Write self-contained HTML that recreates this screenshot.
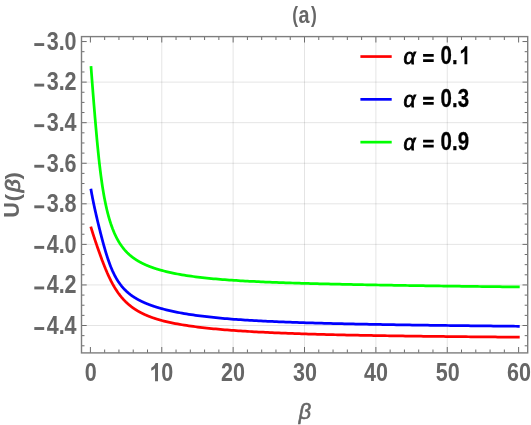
<!DOCTYPE html>
<html><head><meta charset="utf-8"><title>plot</title>
<style>html,body{margin:0;padding:0;background:#fff;}svg{display:block;will-change:transform;font-family:"Liberation Sans",sans-serif;}</style>
</head><body>
<svg width="531" height="425" viewBox="0 0 531 425">
<rect width="531" height="425" fill="#fff"/>
<path d="M161.77,36.6V352.9M233.14,36.6V352.9M304.51,36.6V352.9M375.88,36.6V352.9M447.25,36.6V352.9" stroke="#000" stroke-opacity="0.105" stroke-width="1" fill="none"/>
<path d="M81.5,82.12H527.7M81.5,122.68H527.7M81.5,163.25H527.7M81.5,203.81H527.7M81.5,244.38H527.7M81.5,284.95H527.7M81.5,325.51H527.7" stroke="#000" stroke-opacity="0.105" stroke-width="1" fill="none"/>
<path d="M90.76,226.60 L90.84,226.85 L91.02,227.45 L91.19,228.04 L91.37,228.63 L91.55,229.22 L91.73,229.80 L91.91,230.38 L92.09,230.96 L92.27,231.53 L92.45,232.10 L92.63,232.67 L92.81,233.23 L92.98,233.79 L93.16,234.35 L93.34,234.91 L93.52,235.47 L93.70,236.02 L93.88,236.57 L94.06,237.12 L94.24,237.66 L94.42,238.21 L94.60,238.75 L94.77,239.29 L94.95,239.83 L95.13,240.37 L95.31,240.91 L95.49,241.44 L95.67,241.97 L95.85,242.50 L96.03,243.03 L96.21,243.56 L96.39,244.09 L96.56,244.61 L96.74,245.14 L96.92,245.66 L97.10,246.18 L97.28,246.70 L97.46,247.22 L97.64,247.74 L97.82,248.25 L98.00,248.77 L98.18,249.28 L98.35,249.79 L98.53,250.30 L98.71,250.81 L98.89,251.32 L99.07,251.82 L99.25,252.33 L99.43,252.83 L99.61,253.33 L99.79,253.83 L99.97,254.33 L100.14,254.82 L100.32,255.32 L100.50,255.81 L100.68,256.30 L100.86,256.79 L101.04,257.28 L101.22,257.77 L101.40,258.25 L101.58,258.74 L101.76,259.22 L101.93,259.70 L102.11,260.17 L102.29,260.65 L102.47,261.12 L102.65,261.59 L102.83,262.06 L103.01,262.53 L103.19,263.00 L103.37,263.46 L103.55,263.92 L103.72,264.38 L103.90,264.84 L104.08,265.29 L104.26,265.74 L104.44,266.19 L104.62,266.64 L104.80,267.08 L104.98,267.53 L105.16,267.97 L105.34,268.40 L105.51,268.84 L105.69,269.27 L105.87,269.70 L106.05,270.13 L106.23,270.55 L106.41,270.98 L106.59,271.40 L106.77,271.81 L106.95,272.23 L107.13,272.64 L107.30,273.05 L107.48,273.45 L107.66,273.86 L107.84,274.26 L108.02,274.66 L108.20,275.05 L108.38,275.45 L108.56,275.84 L108.74,276.22 L108.92,276.61 L109.09,276.99 L109.27,277.37 L109.45,277.75 L109.63,278.12 L109.81,278.49 L109.99,278.86 L110.17,279.22 L110.35,279.59 L110.53,279.95 L110.71,280.30 L110.88,280.66 L111.06,281.01 L111.24,281.36 L111.42,281.70 L111.60,282.05 L111.78,282.39 L111.96,282.72 L112.14,283.06 L112.32,283.39 L112.50,283.72 L112.67,284.05 L112.85,284.37 L113.03,284.70 L113.21,285.02 L113.39,285.33 L113.57,285.65 L113.75,285.96 L113.93,286.27 L114.11,286.57 L114.29,286.88 L114.46,287.18 L114.64,287.48 L114.82,287.77 L115.00,288.07 L115.18,288.36 L115.36,288.65 L115.54,288.93 L115.72,289.22 L115.90,289.50 L116.08,289.78 L116.25,290.05 L116.43,290.33 L116.61,290.60 L116.79,290.87 L116.97,291.14 L117.15,291.40 L117.33,291.66 L117.51,291.92 L117.69,292.18 L117.87,292.44 L118.04,292.69 L118.22,292.94 L118.40,293.19 L118.58,293.44 L118.76,293.69 L118.94,293.93 L119.12,294.17 L119.30,294.41 L119.48,294.65 L119.66,294.88 L119.83,295.12 L120.01,295.35 L120.19,295.58 L120.37,295.80 L120.55,296.03 L120.73,296.25 L120.91,296.47 L121.09,296.69 L121.27,296.91 L121.45,297.12 L121.62,297.34 L121.80,297.55 L121.98,297.76 L122.16,297.97 L122.34,298.18 L122.52,298.38 L122.70,298.58 L122.88,298.79 L123.06,298.99 L123.24,299.18 L123.41,299.38 L123.59,299.58 L123.77,299.77 L123.95,299.96 L124.13,300.15 L124.31,300.34 L124.49,300.53 L124.67,300.71 L124.85,300.89 L125.03,301.08 L125.20,301.26 L125.38,301.44 L125.56,301.61 L125.74,301.79 L125.92,301.97 L126.10,302.14 L126.28,302.31 L126.46,302.48 L126.64,302.65 L126.82,302.82 L126.99,302.99 L127.17,303.15 L127.35,303.32 L127.53,303.48 L127.71,303.64 L127.89,303.80 L128.07,303.96 L128.25,304.11 L128.43,304.27 L128.61,304.43 L128.78,304.58 L128.96,304.73 L129.14,304.88 L129.32,305.03 L129.50,305.18 L129.68,305.33 L129.86,305.48 L130.04,305.62 L130.22,305.77 L130.40,305.91 L130.57,306.05 L130.75,306.19 L130.93,306.33 L131.11,306.47 L131.29,306.61 L131.47,306.74 L131.65,306.88 L131.83,307.02 L132.01,307.15 L132.19,307.28 L132.36,307.41 L132.54,307.54 L132.72,307.67 L132.90,307.80 L133.08,307.93 L133.26,308.06 L133.44,308.18 L133.62,308.31 L133.80,308.43 L133.98,308.55 L134.15,308.67 L134.33,308.80 L134.51,308.92 L134.69,309.04 L134.87,309.15 L135.05,309.27 L135.23,309.39 L135.41,309.50 L135.59,309.62 L135.77,309.73 L135.94,309.85 L136.12,309.96 L136.30,310.07 L136.48,310.18 L136.66,310.29 L136.84,310.40 L137.02,310.51 L137.20,310.62 L137.38,310.73 L137.56,310.83 L137.73,310.94 L137.91,311.04 L138.09,311.15 L138.27,311.25 L138.45,311.35 L138.63,311.46 L138.81,311.56 L138.99,311.66 L139.17,311.76 L139.35,311.86 L139.52,311.95 L139.70,312.05 L139.88,312.15 L140.06,312.25 L140.24,312.34 L140.42,312.44 L140.60,312.53 L140.78,312.63 L140.96,312.72 L141.14,312.81 L141.31,312.90 L141.49,313.00 L141.67,313.09 L141.85,313.18 L142.03,313.27 L142.21,313.36 L142.39,313.44 L142.57,313.53 L142.75,313.62 L142.93,313.71 L143.10,313.79 L143.28,313.88 L143.46,313.96 L143.64,314.05 L143.82,314.13 L144.00,314.22 L144.18,314.30 L144.36,314.38 L144.54,314.46 L144.72,314.55 L144.89,314.63 L145.07,314.71 L145.25,314.79 L145.43,314.87 L145.61,314.95 L145.79,315.02 L145.97,315.10 L146.15,315.18 L146.33,315.26 L146.51,315.33 L146.68,315.41 L146.86,315.48 L147.04,315.56 L147.22,315.63 L147.40,315.71 L147.58,315.78 L147.76,315.86 L147.94,315.93 L148.12,316.00 L148.30,316.07 L148.47,316.14 L148.65,316.22 L148.83,316.29 L149.01,316.36 L149.19,316.43 L149.37,316.50 L149.55,316.57 L149.73,316.63 L149.91,316.70 L150.09,316.77 L150.26,316.84 L150.44,316.91 L150.62,316.97 L150.80,317.04 L150.98,317.10 L151.16,317.17 L151.34,317.24 L151.52,317.30 L151.70,317.37 L151.88,317.43 L152.05,317.49 L152.23,317.56 L152.41,317.62 L152.59,317.68 L152.77,317.74 L152.95,317.81 L153.13,317.87 L153.31,317.93 L153.49,317.99 L153.67,318.05 L153.84,318.11 L154.02,318.17 L154.20,318.23 L154.38,318.29 L154.56,318.35 L154.74,318.41 L154.92,318.47 L155.10,318.53 L155.28,318.58 L155.46,318.64 L155.63,318.70 L155.81,318.75 L155.99,318.81 L156.17,318.87 L156.35,318.92 L156.53,318.98 L156.71,319.03 L156.89,319.09 L157.07,319.14 L157.25,319.20 L157.42,319.25 L157.60,319.31 L157.78,319.36 L157.96,319.41 L158.14,319.47 L158.32,319.52 L158.50,319.57 L158.68,319.63 L158.86,319.68 L159.04,319.73 L159.21,319.78 L159.39,319.83 L159.57,319.88 L159.75,319.93 L159.93,319.99 L160.11,320.04 L160.29,320.09 L160.47,320.14 L160.65,320.18 L160.83,320.23 L161.00,320.28 L161.18,320.33 L161.36,320.38 L161.54,320.43 L161.72,320.48 L163.97,321.06 L166.23,321.62 L168.48,322.14 L170.74,322.64 L172.99,323.10 L175.25,323.55 L177.50,323.97 L179.76,324.38 L182.01,324.76 L184.27,325.13 L186.52,325.48 L188.78,325.82 L191.03,326.14 L193.29,326.45 L195.54,326.75 L197.80,327.03 L200.05,327.31 L202.31,327.57 L204.56,327.83 L206.82,328.08 L209.07,328.31 L211.33,328.54 L213.58,328.76 L215.84,328.98 L218.09,329.19 L220.35,329.39 L222.60,329.58 L224.86,329.77 L227.11,329.95 L229.37,330.13 L231.62,330.30 L233.88,330.47 L236.13,330.63 L238.39,330.78 L240.64,330.93 L242.90,331.08 L245.15,331.23 L247.41,331.36 L249.66,331.50 L251.92,331.63 L254.17,331.76 L256.43,331.88 L258.68,332.01 L260.94,332.12 L263.19,332.24 L265.45,332.35 L267.70,332.46 L269.95,332.57 L272.21,332.67 L274.46,332.77 L276.72,332.87 L278.97,332.96 L281.23,333.06 L283.48,333.15 L285.74,333.24 L287.99,333.32 L290.25,333.41 L292.50,333.49 L294.76,333.57 L297.01,333.65 L299.27,333.73 L301.52,333.80 L303.78,333.88 L306.03,333.95 L308.29,334.02 L310.54,334.09 L312.80,334.15 L315.05,334.22 L317.31,334.28 L319.56,334.35 L321.82,334.41 L324.07,334.47 L326.33,334.53 L328.58,334.59 L330.84,334.64 L333.09,334.70 L335.35,334.75 L337.60,334.81 L339.86,334.86 L342.11,334.91 L344.37,334.96 L346.62,335.01 L348.88,335.06 L351.13,335.10 L353.39,335.15 L355.64,335.19 L357.90,335.24 L360.15,335.28 L362.41,335.33 L364.66,335.37 L366.92,335.41 L369.17,335.45 L371.43,335.49 L373.68,335.53 L375.94,335.57 L378.19,335.61 L380.44,335.65 L382.70,335.68 L384.95,335.72 L387.21,335.75 L389.46,335.79 L391.72,335.82 L393.97,335.86 L396.23,335.89 L398.48,335.92 L400.74,335.96 L402.99,335.99 L405.25,336.02 L407.50,336.05 L409.76,336.08 L412.01,336.11 L414.27,336.14 L416.52,336.17 L418.78,336.20 L421.03,336.23 L423.29,336.26 L425.54,336.28 L427.80,336.31 L430.05,336.34 L432.31,336.36 L434.56,336.39 L436.82,336.42 L439.07,336.44 L441.33,336.47 L443.58,336.49 L445.84,336.52 L448.09,336.54 L450.35,336.57 L452.60,336.59 L454.86,336.61 L457.11,336.64 L459.37,336.66 L461.62,336.68 L463.88,336.70 L466.13,336.73 L468.39,336.75 L470.64,336.77 L472.90,336.79 L475.15,336.81 L477.41,336.83 L479.66,336.85 L481.92,336.88 L484.17,336.90 L486.42,336.92 L488.68,336.94 L490.93,336.96 L493.19,336.97 L495.44,336.99 L497.70,337.01 L499.95,337.03 L502.21,337.05 L504.46,337.07 L506.72,337.09 L508.97,337.11 L511.23,337.12 L513.48,337.14 L515.74,337.16 L517.99,337.18 L519.70,337.19" fill="none" stroke="#ff0000" stroke-width="2.75" stroke-linejoin="round"/>
<path d="M90.84,188.70 L91.02,189.72 L91.19,190.73 L91.37,191.73 L91.55,192.72 L91.73,193.69 L91.91,194.65 L92.09,195.61 L92.27,196.55 L92.45,197.48 L92.63,198.40 L92.81,199.30 L92.98,200.20 L93.16,201.09 L93.34,201.98 L93.52,202.85 L93.70,203.71 L93.88,204.57 L94.06,205.42 L94.24,206.26 L94.42,207.09 L94.60,207.92 L94.77,208.74 L94.95,209.56 L95.13,210.37 L95.31,211.17 L95.49,211.97 L95.67,212.77 L95.85,213.55 L96.03,214.34 L96.21,215.12 L96.39,215.89 L96.56,216.66 L96.74,217.43 L96.92,218.19 L97.10,218.95 L97.28,219.71 L97.46,220.46 L97.64,221.21 L97.82,221.96 L98.00,222.71 L98.18,223.45 L98.35,224.19 L98.53,224.92 L98.71,225.65 L98.89,226.38 L99.07,227.11 L99.25,227.84 L99.43,228.56 L99.61,229.28 L99.79,230.00 L99.97,230.71 L100.14,231.42 L100.32,232.13 L100.50,232.84 L100.68,233.55 L100.86,234.25 L101.04,234.95 L101.22,235.64 L101.40,236.34 L101.58,237.03 L101.76,237.71 L101.93,238.40 L102.11,239.08 L102.29,239.76 L102.47,240.43 L102.65,241.10 L102.83,241.77 L103.01,242.43 L103.19,243.09 L103.37,243.75 L103.55,244.40 L103.72,245.05 L103.90,245.69 L104.08,246.33 L104.26,246.97 L104.44,247.60 L104.62,248.23 L104.80,248.85 L104.98,249.47 L105.16,250.08 L105.34,250.69 L105.51,251.30 L105.69,251.90 L105.87,252.49 L106.05,253.08 L106.23,253.67 L106.41,254.25 L106.59,254.82 L106.77,255.39 L106.95,255.95 L107.13,256.51 L107.30,257.07 L107.48,257.62 L107.66,258.16 L107.84,258.70 L108.02,259.23 L108.20,259.76 L108.38,260.28 L108.56,260.80 L108.74,261.31 L108.92,261.81 L109.09,262.31 L109.27,262.81 L109.45,263.30 L109.63,263.78 L109.81,264.26 L109.99,264.74 L110.17,265.20 L110.35,265.67 L110.53,266.13 L110.71,266.58 L110.88,267.03 L111.06,267.47 L111.24,267.91 L111.42,268.34 L111.60,268.77 L111.78,269.19 L111.96,269.61 L112.14,270.02 L112.32,270.43 L112.50,270.83 L112.67,271.23 L112.85,271.62 L113.03,272.01 L113.21,272.40 L113.39,272.78 L113.57,273.15 L113.75,273.52 L113.93,273.89 L114.11,274.25 L114.29,274.61 L114.46,274.96 L114.64,275.31 L114.82,275.65 L115.00,275.99 L115.18,276.33 L115.36,276.66 L115.54,276.99 L115.72,277.31 L115.90,277.63 L116.08,277.95 L116.25,278.26 L116.43,278.57 L116.61,278.88 L116.79,279.18 L116.97,279.48 L117.15,279.77 L117.33,280.07 L117.51,280.35 L117.69,280.64 L117.87,280.92 L118.04,281.20 L118.22,281.47 L118.40,281.74 L118.58,282.01 L118.76,282.28 L118.94,282.54 L119.12,282.80 L119.30,283.05 L119.48,283.31 L119.66,283.56 L119.83,283.80 L120.01,284.05 L120.19,284.29 L120.37,284.53 L120.55,284.77 L120.73,285.00 L120.91,285.23 L121.09,285.46 L121.27,285.69 L121.45,285.91 L121.62,286.13 L121.80,286.35 L121.98,286.57 L122.16,286.78 L122.34,286.99 L122.52,287.20 L122.70,287.41 L122.88,287.61 L123.06,287.82 L123.24,288.02 L123.41,288.22 L123.59,288.41 L123.77,288.61 L123.95,288.80 L124.13,288.99 L124.31,289.18 L124.49,289.37 L124.67,289.55 L124.85,289.73 L125.03,289.91 L125.20,290.09 L125.38,290.27 L125.56,290.45 L125.74,290.62 L125.92,290.79 L126.10,290.96 L126.28,291.13 L126.46,291.30 L126.64,291.47 L126.82,291.63 L126.99,291.79 L127.17,291.96 L127.35,292.11 L127.53,292.27 L127.71,292.43 L127.89,292.58 L128.07,292.74 L128.25,292.89 L128.43,293.04 L128.61,293.19 L128.78,293.34 L128.96,293.49 L129.14,293.63 L129.32,293.78 L129.50,293.92 L129.68,294.06 L129.86,294.20 L130.04,294.34 L130.22,294.48 L130.40,294.62 L130.57,294.75 L130.75,294.89 L130.93,295.02 L131.11,295.15 L131.29,295.28 L131.47,295.41 L131.65,295.54 L131.83,295.67 L132.01,295.80 L132.19,295.92 L132.36,296.05 L132.54,296.17 L132.72,296.30 L132.90,296.42 L133.08,296.54 L133.26,296.66 L133.44,296.78 L133.62,296.90 L133.80,297.01 L133.98,297.13 L134.15,297.25 L134.33,297.36 L134.51,297.47 L134.69,297.59 L134.87,297.70 L135.05,297.81 L135.23,297.92 L135.41,298.03 L135.59,298.14 L135.77,298.25 L135.94,298.35 L136.12,298.46 L136.30,298.57 L136.48,298.67 L136.66,298.77 L136.84,298.88 L137.02,298.98 L137.20,299.08 L137.38,299.18 L137.56,299.28 L137.73,299.38 L137.91,299.48 L138.09,299.58 L138.27,299.68 L138.45,299.78 L138.63,299.87 L138.81,299.97 L138.99,300.06 L139.17,300.16 L139.35,300.25 L139.52,300.35 L139.70,300.44 L139.88,300.53 L140.06,300.62 L140.24,300.71 L140.42,300.80 L140.60,300.89 L140.78,300.98 L140.96,301.07 L141.14,301.16 L141.31,301.25 L141.49,301.33 L141.67,301.42 L141.85,301.50 L142.03,301.59 L142.21,301.67 L142.39,301.76 L142.57,301.84 L142.75,301.93 L142.93,302.01 L143.10,302.09 L143.28,302.17 L143.46,302.25 L143.64,302.33 L143.82,302.41 L144.00,302.49 L144.18,302.57 L144.36,302.65 L144.54,302.73 L144.72,302.81 L144.89,302.89 L145.07,302.96 L145.25,303.04 L145.43,303.12 L145.61,303.19 L145.79,303.27 L145.97,303.34 L146.15,303.42 L146.33,303.49 L146.51,303.57 L146.68,303.64 L146.86,303.71 L147.04,303.78 L147.22,303.86 L147.40,303.93 L147.58,304.00 L147.76,304.07 L147.94,304.14 L148.12,304.21 L148.30,304.28 L148.47,304.35 L148.65,304.42 L148.83,304.49 L149.01,304.56 L149.19,304.62 L149.37,304.69 L149.55,304.76 L149.73,304.83 L149.91,304.89 L150.09,304.96 L150.26,305.03 L150.44,305.09 L150.62,305.16 L150.80,305.22 L150.98,305.29 L151.16,305.35 L151.34,305.41 L151.52,305.48 L151.70,305.54 L151.88,305.60 L152.05,305.67 L152.23,305.73 L152.41,305.79 L152.59,305.85 L152.77,305.92 L152.95,305.98 L153.13,306.04 L153.31,306.10 L153.49,306.16 L153.67,306.22 L153.84,306.28 L154.02,306.34 L154.20,306.40 L154.38,306.46 L154.56,306.51 L154.74,306.57 L154.92,306.63 L155.10,306.69 L155.28,306.75 L155.46,306.80 L155.63,306.86 L155.81,306.92 L155.99,306.97 L156.17,307.03 L156.35,307.09 L156.53,307.14 L156.71,307.20 L156.89,307.25 L157.07,307.31 L157.25,307.36 L157.42,307.42 L157.60,307.47 L157.78,307.53 L157.96,307.58 L158.14,307.63 L158.32,307.69 L158.50,307.74 L158.68,307.79 L158.86,307.85 L159.04,307.90 L159.21,307.95 L159.39,308.00 L159.57,308.05 L159.75,308.11 L159.93,308.16 L160.11,308.21 L160.29,308.26 L160.47,308.31 L160.65,308.36 L160.83,308.41 L161.00,308.46 L161.18,308.51 L161.36,308.56 L161.54,308.61 L161.72,308.66 L163.97,309.26 L166.23,309.83 L168.48,310.38 L170.74,310.90 L172.99,311.39 L175.25,311.86 L177.50,312.31 L179.76,312.75 L182.01,313.16 L184.27,313.56 L186.52,313.93 L188.78,314.30 L191.03,314.65 L193.29,314.98 L195.54,315.30 L197.80,315.61 L200.05,315.91 L202.31,316.19 L204.56,316.47 L206.82,316.73 L209.07,316.99 L211.33,317.23 L213.58,317.47 L215.84,317.70 L218.09,317.92 L220.35,318.13 L222.60,318.33 L224.86,318.53 L227.11,318.72 L229.37,318.91 L231.62,319.08 L233.88,319.26 L236.13,319.42 L238.39,319.58 L240.64,319.74 L242.90,319.89 L245.15,320.04 L247.41,320.18 L249.66,320.32 L251.92,320.45 L254.17,320.58 L256.43,320.71 L258.68,320.83 L260.94,320.95 L263.19,321.06 L265.45,321.17 L267.70,321.28 L269.95,321.39 L272.21,321.49 L274.46,321.59 L276.72,321.69 L278.97,321.78 L281.23,321.88 L283.48,321.97 L285.74,322.05 L287.99,322.14 L290.25,322.22 L292.50,322.31 L294.76,322.39 L297.01,322.46 L299.27,322.54 L301.52,322.62 L303.78,322.69 L306.03,322.76 L308.29,322.83 L310.54,322.90 L312.80,322.96 L315.05,323.03 L317.31,323.09 L319.56,323.16 L321.82,323.22 L324.07,323.28 L326.33,323.34 L328.58,323.40 L330.84,323.45 L333.09,323.51 L335.35,323.56 L337.60,323.62 L339.86,323.67 L342.11,323.72 L344.37,323.77 L346.62,323.83 L348.88,323.87 L351.13,323.92 L353.39,323.97 L355.64,324.02 L357.90,324.07 L360.15,324.11 L362.41,324.16 L364.66,324.20 L366.92,324.24 L369.17,324.29 L371.43,324.33 L373.68,324.37 L375.94,324.41 L378.19,324.45 L380.44,324.49 L382.70,324.53 L384.95,324.57 L387.21,324.61 L389.46,324.65 L391.72,324.69 L393.97,324.72 L396.23,324.76 L398.48,324.80 L400.74,324.83 L402.99,324.87 L405.25,324.90 L407.50,324.94 L409.76,324.97 L412.01,325.01 L414.27,325.04 L416.52,325.07 L418.78,325.11 L421.03,325.14 L423.29,325.17 L425.54,325.20 L427.80,325.23 L430.05,325.26 L432.31,325.29 L434.56,325.32 L436.82,325.35 L439.07,325.38 L441.33,325.41 L443.58,325.44 L445.84,325.47 L448.09,325.50 L450.35,325.53 L452.60,325.56 L454.86,325.58 L457.11,325.61 L459.37,325.64 L461.62,325.67 L463.88,325.69 L466.13,325.72 L468.39,325.74 L470.64,325.77 L472.90,325.80 L475.15,325.82 L477.41,325.85 L479.66,325.87 L481.92,325.90 L484.17,325.92 L486.42,325.95 L488.68,325.97 L490.93,325.99 L493.19,326.02 L495.44,326.04 L497.70,326.07 L499.95,326.09 L502.21,326.11 L504.46,326.13 L506.72,326.16 L508.97,326.18 L511.23,326.20 L513.48,326.22 L515.74,326.25 L517.99,326.27 L519.70,326.28" fill="none" stroke="#0000ff" stroke-width="2.75" stroke-linejoin="round"/>
<path d="M90.98,66.10 L91.02,66.61 L91.19,69.10 L91.37,71.57 L91.55,74.00 L91.73,76.41 L91.91,78.80 L92.09,81.16 L92.27,83.50 L92.45,85.82 L92.63,88.12 L92.81,90.40 L92.98,92.67 L93.16,94.93 L93.34,97.17 L93.52,99.39 L93.70,101.61 L93.88,103.81 L94.06,106.00 L94.24,108.18 L94.42,110.34 L94.60,112.49 L94.77,114.63 L94.95,116.76 L95.13,118.88 L95.31,120.98 L95.49,123.06 L95.67,125.13 L95.85,127.18 L96.03,129.22 L96.21,131.24 L96.39,133.24 L96.56,135.22 L96.74,137.17 L96.92,139.11 L97.10,141.02 L97.28,142.91 L97.46,144.78 L97.64,146.62 L97.82,148.44 L98.00,150.23 L98.18,152.00 L98.35,153.74 L98.53,155.45 L98.71,157.14 L98.89,158.80 L99.07,160.43 L99.25,162.04 L99.43,163.62 L99.61,165.17 L99.79,166.70 L99.97,168.20 L100.14,169.67 L100.32,171.12 L100.50,172.54 L100.68,173.94 L100.86,175.31 L101.04,176.66 L101.22,177.98 L101.40,179.28 L101.58,180.56 L101.76,181.81 L101.93,183.04 L102.11,184.25 L102.29,185.43 L102.47,186.60 L102.65,187.74 L102.83,188.87 L103.01,189.97 L103.19,191.05 L103.37,192.12 L103.55,193.17 L103.72,194.19 L103.90,195.20 L104.08,196.20 L104.26,197.17 L104.44,198.13 L104.62,199.07 L104.80,200.00 L104.98,200.91 L105.16,201.80 L105.34,202.68 L105.51,203.54 L105.69,204.39 L105.87,205.23 L106.05,206.05 L106.23,206.86 L106.41,207.65 L106.59,208.44 L106.77,209.21 L106.95,209.96 L107.13,210.71 L107.30,211.44 L107.48,212.16 L107.66,212.87 L107.84,213.57 L108.02,214.26 L108.20,214.94 L108.38,215.61 L108.56,216.26 L108.74,216.91 L108.92,217.55 L109.09,218.17 L109.27,218.79 L109.45,219.40 L109.63,220.00 L109.81,220.59 L109.99,221.17 L110.17,221.74 L110.35,222.31 L110.53,222.86 L110.71,223.41 L110.88,223.95 L111.06,224.48 L111.24,225.01 L111.42,225.53 L111.60,226.04 L111.78,226.54 L111.96,227.04 L112.14,227.52 L112.32,228.01 L112.50,228.48 L112.67,228.95 L112.85,229.41 L113.03,229.87 L113.21,230.32 L113.39,230.76 L113.57,231.20 L113.75,231.63 L113.93,232.06 L114.11,232.48 L114.29,232.89 L114.46,233.30 L114.64,233.70 L114.82,234.10 L115.00,234.49 L115.18,234.88 L115.36,235.26 L115.54,235.64 L115.72,236.01 L115.90,236.38 L116.08,236.75 L116.25,237.10 L116.43,237.46 L116.61,237.81 L116.79,238.15 L116.97,238.50 L117.15,238.83 L117.33,239.16 L117.51,239.49 L117.69,239.82 L117.87,240.14 L118.04,240.45 L118.22,240.77 L118.40,241.08 L118.58,241.38 L118.76,241.68 L118.94,241.98 L119.12,242.27 L119.30,242.57 L119.48,242.85 L119.66,243.14 L119.83,243.42 L120.01,243.69 L120.19,243.97 L120.37,244.24 L120.55,244.51 L120.73,244.77 L120.91,245.03 L121.09,245.29 L121.27,245.55 L121.45,245.80 L121.62,246.05 L121.80,246.30 L121.98,246.54 L122.16,246.78 L122.34,247.02 L122.52,247.26 L122.70,247.49 L122.88,247.72 L123.06,247.95 L123.24,248.18 L123.41,248.40 L123.59,248.63 L123.77,248.84 L123.95,249.06 L124.13,249.28 L124.31,249.49 L124.49,249.70 L124.67,249.90 L124.85,250.11 L125.03,250.31 L125.20,250.51 L125.38,250.71 L125.56,250.91 L125.74,251.11 L125.92,251.30 L126.10,251.49 L126.28,251.68 L126.46,251.87 L126.64,252.05 L126.82,252.24 L126.99,252.42 L127.17,252.60 L127.35,252.78 L127.53,252.95 L127.71,253.13 L127.89,253.30 L128.07,253.47 L128.25,253.64 L128.43,253.81 L128.61,253.98 L128.78,254.14 L128.96,254.30 L129.14,254.47 L129.32,254.63 L129.50,254.79 L129.68,254.94 L129.86,255.10 L130.04,255.25 L130.22,255.41 L130.40,255.56 L130.57,255.71 L130.75,255.86 L130.93,256.01 L131.11,256.15 L131.29,256.30 L131.47,256.44 L131.65,256.58 L131.83,256.72 L132.01,256.86 L132.19,257.00 L132.36,257.14 L132.54,257.28 L132.72,257.41 L132.90,257.55 L133.08,257.68 L133.26,257.81 L133.44,257.94 L133.62,258.07 L133.80,258.20 L133.98,258.33 L134.15,258.45 L134.33,258.58 L134.51,258.70 L134.69,258.83 L134.87,258.95 L135.05,259.07 L135.23,259.19 L135.41,259.31 L135.59,259.43 L135.77,259.54 L135.94,259.66 L136.12,259.78 L136.30,259.89 L136.48,260.01 L136.66,260.12 L136.84,260.23 L137.02,260.34 L137.20,260.45 L137.38,260.56 L137.56,260.67 L137.73,260.78 L137.91,260.88 L138.09,260.99 L138.27,261.10 L138.45,261.20 L138.63,261.30 L138.81,261.41 L138.99,261.51 L139.17,261.61 L139.35,261.71 L139.52,261.81 L139.70,261.91 L139.88,262.01 L140.06,262.11 L140.24,262.21 L140.42,262.30 L140.60,262.40 L140.78,262.49 L140.96,262.59 L141.14,262.68 L141.31,262.78 L141.49,262.87 L141.67,262.96 L141.85,263.05 L142.03,263.14 L142.21,263.23 L142.39,263.32 L142.57,263.41 L142.75,263.50 L142.93,263.59 L143.10,263.67 L143.28,263.76 L143.46,263.85 L143.64,263.93 L143.82,264.02 L144.00,264.10 L144.18,264.18 L144.36,264.27 L144.54,264.35 L144.72,264.43 L144.89,264.51 L145.07,264.60 L145.25,264.68 L145.43,264.76 L145.61,264.84 L145.79,264.91 L145.97,264.99 L146.15,265.07 L146.33,265.15 L146.51,265.23 L146.68,265.30 L146.86,265.38 L147.04,265.45 L147.22,265.53 L147.40,265.60 L147.58,265.68 L147.76,265.75 L147.94,265.83 L148.12,265.90 L148.30,265.97 L148.47,266.04 L148.65,266.12 L148.83,266.19 L149.01,266.26 L149.19,266.33 L149.37,266.40 L149.55,266.47 L149.73,266.54 L149.91,266.61 L150.09,266.68 L150.26,266.74 L150.44,266.81 L150.62,266.88 L150.80,266.95 L150.98,267.01 L151.16,267.08 L151.34,267.14 L151.52,267.21 L151.70,267.28 L151.88,267.34 L152.05,267.40 L152.23,267.47 L152.41,267.53 L152.59,267.60 L152.77,267.66 L152.95,267.72 L153.13,267.78 L153.31,267.85 L153.49,267.91 L153.67,267.97 L153.84,268.03 L154.02,268.09 L154.20,268.15 L154.38,268.21 L154.56,268.27 L154.74,268.33 L154.92,268.39 L155.10,268.45 L155.28,268.51 L155.46,268.57 L155.63,268.62 L155.81,268.68 L155.99,268.74 L156.17,268.80 L156.35,268.85 L156.53,268.91 L156.71,268.96 L156.89,269.02 L157.07,269.08 L157.25,269.13 L157.42,269.19 L157.60,269.24 L157.78,269.30 L157.96,269.35 L158.14,269.40 L158.32,269.46 L158.50,269.51 L158.68,269.56 L158.86,269.62 L159.04,269.67 L159.21,269.72 L159.39,269.77 L159.57,269.83 L159.75,269.88 L159.93,269.93 L160.11,269.98 L160.29,270.03 L160.47,270.08 L160.65,270.13 L160.83,270.18 L161.00,270.23 L161.18,270.28 L161.36,270.33 L161.54,270.38 L161.72,270.43 L163.97,271.03 L166.23,271.59 L168.48,272.13 L170.74,272.63 L172.99,273.11 L175.25,273.57 L177.50,274.00 L179.76,274.42 L182.01,274.81 L184.27,275.18 L186.52,275.54 L188.78,275.88 L191.03,276.20 L193.29,276.51 L195.54,276.81 L197.80,277.09 L200.05,277.36 L202.31,277.62 L204.56,277.87 L206.82,278.11 L209.07,278.34 L211.33,278.56 L213.58,278.77 L215.84,278.97 L218.09,279.17 L220.35,279.36 L222.60,279.54 L224.86,279.71 L227.11,279.88 L229.37,280.04 L231.62,280.19 L233.88,280.34 L236.13,280.49 L238.39,280.63 L240.64,280.77 L242.90,280.90 L245.15,281.02 L247.41,281.15 L249.66,281.27 L251.92,281.38 L254.17,281.49 L256.43,281.60 L258.68,281.71 L260.94,281.81 L263.19,281.91 L265.45,282.01 L267.70,282.10 L269.95,282.19 L272.21,282.28 L274.46,282.37 L276.72,282.45 L278.97,282.54 L281.23,282.62 L283.48,282.70 L285.74,282.77 L287.99,282.85 L290.25,282.92 L292.50,283.00 L294.76,283.07 L297.01,283.14 L299.27,283.20 L301.52,283.27 L303.78,283.34 L306.03,283.40 L308.29,283.46 L310.54,283.52 L312.80,283.59 L315.05,283.64 L317.31,283.70 L319.56,283.76 L321.82,283.82 L324.07,283.87 L326.33,283.93 L328.58,283.98 L330.84,284.04 L333.09,284.09 L335.35,284.14 L337.60,284.19 L339.86,284.24 L342.11,284.29 L344.37,284.34 L346.62,284.39 L348.88,284.43 L351.13,284.48 L353.39,284.53 L355.64,284.57 L357.90,284.62 L360.15,284.66 L362.41,284.71 L364.66,284.75 L366.92,284.79 L369.17,284.84 L371.43,284.88 L373.68,284.92 L375.94,284.96 L378.19,285.00 L380.44,285.04 L382.70,285.08 L384.95,285.12 L387.21,285.16 L389.46,285.20 L391.72,285.24 L393.97,285.28 L396.23,285.31 L398.48,285.35 L400.74,285.39 L402.99,285.42 L405.25,285.46 L407.50,285.50 L409.76,285.53 L412.01,285.57 L414.27,285.60 L416.52,285.64 L418.78,285.67 L421.03,285.71 L423.29,285.74 L425.54,285.77 L427.80,285.81 L430.05,285.84 L432.31,285.87 L434.56,285.90 L436.82,285.94 L439.07,285.97 L441.33,286.00 L443.58,286.03 L445.84,286.06 L448.09,286.09 L450.35,286.12 L452.60,286.15 L454.86,286.18 L457.11,286.21 L459.37,286.24 L461.62,286.27 L463.88,286.30 L466.13,286.33 L468.39,286.36 L470.64,286.39 L472.90,286.42 L475.15,286.44 L477.41,286.47 L479.66,286.50 L481.92,286.53 L484.17,286.56 L486.42,286.58 L488.68,286.61 L490.93,286.64 L493.19,286.66 L495.44,286.69 L497.70,286.72 L499.95,286.74 L502.21,286.77 L504.46,286.79 L506.72,286.82 L508.97,286.84 L511.23,286.87 L513.48,286.90 L515.74,286.92 L517.99,286.94 L519.70,286.96" fill="none" stroke="#00ff00" stroke-width="2.75" stroke-linejoin="round"/>
<path d="M90.40,352.9v-5.9M90.40,36.6v5.9M104.67,352.9v-3.4M104.67,36.6v3.4M118.95,352.9v-3.4M118.95,36.6v3.4M133.22,352.9v-3.4M133.22,36.6v3.4M147.50,352.9v-3.4M147.50,36.6v3.4M161.77,352.9v-5.9M161.77,36.6v5.9M176.04,352.9v-3.4M176.04,36.6v3.4M190.32,352.9v-3.4M190.32,36.6v3.4M204.59,352.9v-3.4M204.59,36.6v3.4M218.87,352.9v-3.4M218.87,36.6v3.4M233.14,352.9v-5.9M233.14,36.6v5.9M247.41,352.9v-3.4M247.41,36.6v3.4M261.69,352.9v-3.4M261.69,36.6v3.4M275.96,352.9v-3.4M275.96,36.6v3.4M290.24,352.9v-3.4M290.24,36.6v3.4M304.51,352.9v-5.9M304.51,36.6v5.9M318.78,352.9v-3.4M318.78,36.6v3.4M333.06,352.9v-3.4M333.06,36.6v3.4M347.33,352.9v-3.4M347.33,36.6v3.4M361.61,352.9v-3.4M361.61,36.6v3.4M375.88,352.9v-5.9M375.88,36.6v5.9M390.15,352.9v-3.4M390.15,36.6v3.4M404.43,352.9v-3.4M404.43,36.6v3.4M418.70,352.9v-3.4M418.70,36.6v3.4M432.98,352.9v-3.4M432.98,36.6v3.4M447.25,352.9v-5.9M447.25,36.6v5.9M461.52,352.9v-3.4M461.52,36.6v3.4M475.80,352.9v-3.4M475.80,36.6v3.4M490.07,352.9v-3.4M490.07,36.6v3.4M504.35,352.9v-3.4M504.35,36.6v3.4M518.62,352.9v-5.9M518.62,36.6v5.9M81.5,41.55h5.2M527.7,41.55h-5.2M81.5,51.69h3.0M527.7,51.69h-3.0M81.5,61.83h3.0M527.7,61.83h-3.0M81.5,71.97h3.0M527.7,71.97h-3.0M81.5,82.12h5.2M527.7,82.12h-5.2M81.5,92.26h3.0M527.7,92.26h-3.0M81.5,102.40h3.0M527.7,102.40h-3.0M81.5,112.54h3.0M527.7,112.54h-3.0M81.5,122.68h5.2M527.7,122.68h-5.2M81.5,132.82h3.0M527.7,132.82h-3.0M81.5,142.97h3.0M527.7,142.97h-3.0M81.5,153.11h3.0M527.7,153.11h-3.0M81.5,163.25h5.2M527.7,163.25h-5.2M81.5,173.39h3.0M527.7,173.39h-3.0M81.5,183.53h3.0M527.7,183.53h-3.0M81.5,193.67h3.0M527.7,193.67h-3.0M81.5,203.81h5.2M527.7,203.81h-5.2M81.5,213.96h3.0M527.7,213.96h-3.0M81.5,224.10h3.0M527.7,224.10h-3.0M81.5,234.24h3.0M527.7,234.24h-3.0M81.5,244.38h5.2M527.7,244.38h-5.2M81.5,254.52h3.0M527.7,254.52h-3.0M81.5,264.66h3.0M527.7,264.66h-3.0M81.5,274.80h3.0M527.7,274.80h-3.0M81.5,284.95h5.2M527.7,284.95h-5.2M81.5,295.09h3.0M527.7,295.09h-3.0M81.5,305.23h3.0M527.7,305.23h-3.0M81.5,315.37h3.0M527.7,315.37h-3.0M81.5,325.51h5.2M527.7,325.51h-5.2M81.5,335.65h3.0M527.7,335.65h-3.0M81.5,345.80h3.0M527.7,345.80h-3.0" stroke="#6c6c6c" stroke-width="1" fill="none"/>
<rect x="81.5" y="36.6" width="446.20000000000005" height="316.29999999999995" fill="none" stroke="#7e7e7e" stroke-width="1.4"/>
<line x1="360.4" y1="56.55" x2="391.7" y2="56.55" stroke="#ff0000" stroke-width="2.7"/>
<line x1="360.4" y1="99.35" x2="391.7" y2="99.35" stroke="#0000ff" stroke-width="2.7"/>
<line x1="360.4" y1="142.15" x2="391.7" y2="142.15" stroke="#00ff00" stroke-width="2.7"/>
<text transform="translate(76.6,49.90) scale(0.813,1)" text-anchor="end" font-size="26.5" font-weight="bold" fill="#666666" >3.0</text>
<rect x="34.3" y="43.10" width="9.9" height="2.9" fill="#666666"/>
<text transform="translate(76.6,90.47) scale(0.813,1)" text-anchor="end" font-size="26.5" font-weight="bold" fill="#666666" >3.2</text>
<rect x="34.3" y="83.67" width="9.9" height="2.9" fill="#666666"/>
<text transform="translate(76.6,131.03) scale(0.813,1)" text-anchor="end" font-size="26.5" font-weight="bold" fill="#666666" >3.4</text>
<rect x="34.3" y="124.23" width="9.9" height="2.9" fill="#666666"/>
<text transform="translate(76.6,171.60) scale(0.813,1)" text-anchor="end" font-size="26.5" font-weight="bold" fill="#666666" >3.6</text>
<rect x="34.3" y="164.80" width="9.9" height="2.9" fill="#666666"/>
<text transform="translate(76.6,212.16) scale(0.813,1)" text-anchor="end" font-size="26.5" font-weight="bold" fill="#666666" >3.8</text>
<rect x="34.3" y="205.36" width="9.9" height="2.9" fill="#666666"/>
<text transform="translate(76.6,252.73) scale(0.813,1)" text-anchor="end" font-size="26.5" font-weight="bold" fill="#666666" >4.0</text>
<rect x="34.3" y="245.93" width="9.9" height="2.9" fill="#666666"/>
<text transform="translate(76.6,293.30) scale(0.813,1)" text-anchor="end" font-size="26.5" font-weight="bold" fill="#666666" >4.2</text>
<rect x="34.3" y="286.50" width="9.9" height="2.9" fill="#666666"/>
<text transform="translate(76.6,333.86) scale(0.813,1)" text-anchor="end" font-size="26.5" font-weight="bold" fill="#666666" >4.4</text>
<rect x="34.3" y="327.06" width="9.9" height="2.9" fill="#666666"/>
<text transform="translate(90.80,381.3) scale(0.813,1)" text-anchor="middle" font-size="26.5" font-weight="bold" fill="#666666" >0</text>
<path transform="translate(158.0,381.3) scale(0.01052,-0.01294)" fill="#666666" d="M0,0H-281V1013Q-435,876 -644,810V1054Q-534,1088 -405,1185Q-276,1281 -228,1409H0Z"/>
<text transform="translate(161.35,381.3) scale(0.813,1)" text-anchor="start" font-size="26.5" font-weight="bold" fill="#666666" >0</text>
<text transform="translate(233.04,381.3) scale(0.813,1)" text-anchor="middle" font-size="26.5" font-weight="bold" fill="#666666" >20</text>
<text transform="translate(304.91,381.3) scale(0.813,1)" text-anchor="middle" font-size="26.5" font-weight="bold" fill="#666666" >30</text>
<text transform="translate(376.08,381.3) scale(0.813,1)" text-anchor="middle" font-size="26.5" font-weight="bold" fill="#666666" >40</text>
<text transform="translate(447.65,381.3) scale(0.813,1)" text-anchor="middle" font-size="26.5" font-weight="bold" fill="#666666" >50</text>
<text transform="translate(519.02,381.3) scale(0.813,1)" text-anchor="middle" font-size="26.5" font-weight="bold" fill="#666666" >60</text>
<text transform="translate(403.6,63.900000000000006) scale(0.92,1)" font-size="22.9" font-style="italic" fill="#000" stroke="#000" stroke-width="0.85">α</text>
<path d="M423.1,54.05h10.6v2.8h-10.6zM423.1,59.20h10.6v2.8h-10.6z" fill="#000"/>
<text transform="translate(440.6,64.2) scale(0.78,1)" font-size="26.2" font-weight="bold" fill="#000" stroke="#000" stroke-width="0.3">0.</text>
<path transform="translate(467.3,64.2) scale(0.00998,-0.01279)" fill="#000" d="M0,0H-281V1013Q-435,876 -644,810V1054Q-534,1088 -405,1185Q-276,1281 -228,1409H0Z"/>
<text transform="translate(403.6,106.7) scale(0.92,1)" font-size="22.9" font-style="italic" fill="#000" stroke="#000" stroke-width="0.85">α</text>
<path d="M423.1,96.85h10.6v2.8h-10.6zM423.1,102.00h10.6v2.8h-10.6z" fill="#000"/>
<text transform="translate(440.6,107.0) scale(0.78,1)" font-size="26.2" font-weight="bold" fill="#000" stroke="#000" stroke-width="0.3">0.3</text>
<text transform="translate(403.6,149.5) scale(0.92,1)" font-size="22.9" font-style="italic" fill="#000" stroke="#000" stroke-width="0.85">α</text>
<path d="M423.1,139.65h10.6v2.8h-10.6zM423.1,144.80h10.6v2.8h-10.6z" fill="#000"/>
<text transform="translate(440.6,149.8) scale(0.78,1)" font-size="26.2" font-weight="bold" fill="#000" stroke="#000" stroke-width="0.3">0.9</text>
<text transform="translate(292.2,22.15) scale(0.77,1)" text-anchor="start" font-size="22.6" font-weight="bold" fill="#666666" >(</text>
<text transform="translate(298.5,22.55) scale(0.83,1)" text-anchor="start" font-size="23.8" font-weight="bold" fill="#666666" >a</text>
<text transform="translate(311.0,22.15) scale(0.77,1)" text-anchor="start" font-size="22.6" font-weight="bold" fill="#666666" >)</text>
<text transform="translate(298.7,418.9) scale(0.97,1)" font-size="22.3" font-style="italic" fill="#666666" stroke="#666666" stroke-width="0.6">β</text>
<g transform="translate(19.4,216.6) rotate(-90)" fill="#666666"><text transform="translate(-1.1,-0.1) scale(0.97,1)" font-size="22.3" font-weight="bold">U</text><text transform="translate(15.3,0.7) scale(1.1,1)" font-size="19.9" font-weight="bold">(</text><text transform="translate(24.4,0.7) scale(1.15,1)" font-size="19.8" font-style="italic" stroke="#666666" stroke-width="0.8">β</text><text transform="translate(37.2,0.7) scale(1.1,1)" font-size="19.9" font-weight="bold">)</text></g>
</svg>
</body></html>
